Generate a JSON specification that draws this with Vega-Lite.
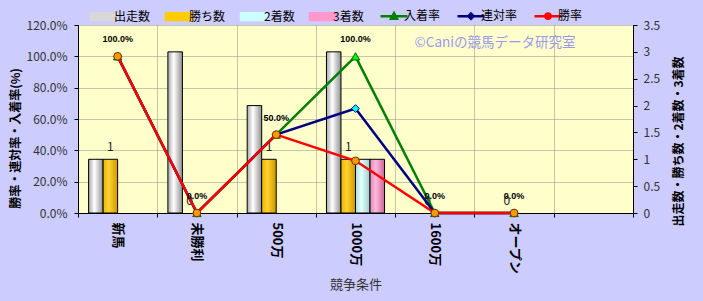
{
  "$schema": "https://vega.github.io/schema/vega-lite/v6.json",
  "width": 555,
  "height": 188,
  "autosize": {"type": "none"},
  "padding": {"left": 78, "top": 25, "right": 70, "bottom": 88},
  "background": "#ccccff",
  "config": {
    "view": {"fill": "#ffffcc", "stroke": null},
    "font": "Noto Sans CJK JP"
  },
  "datasets": {
    "counts": [
      {"cond": "新馬", "series": "出走数", "value": 1},
      {"cond": "新馬", "series": "勝ち数", "value": 1},
      {"cond": "新馬", "series": "2着数", "value": 0},
      {"cond": "新馬", "series": "3着数", "value": 0},
      {"cond": "未勝利", "series": "出走数", "value": 3},
      {"cond": "未勝利", "series": "勝ち数", "value": 0},
      {"cond": "未勝利", "series": "2着数", "value": 0},
      {"cond": "未勝利", "series": "3着数", "value": 0},
      {"cond": "500万", "series": "出走数", "value": 2},
      {"cond": "500万", "series": "勝ち数", "value": 1},
      {"cond": "500万", "series": "2着数", "value": 0},
      {"cond": "500万", "series": "3着数", "value": 0},
      {"cond": "1000万", "series": "出走数", "value": 3},
      {"cond": "1000万", "series": "勝ち数", "value": 1},
      {"cond": "1000万", "series": "2着数", "value": 1},
      {"cond": "1000万", "series": "3着数", "value": 1},
      {"cond": "1600万", "series": "出走数", "value": 0},
      {"cond": "1600万", "series": "勝ち数", "value": 0},
      {"cond": "1600万", "series": "2着数", "value": 0},
      {"cond": "1600万", "series": "3着数", "value": 0},
      {"cond": "オープン", "series": "出走数", "value": 0},
      {"cond": "オープン", "series": "勝ち数", "value": 0},
      {"cond": "オープン", "series": "2着数", "value": 0},
      {"cond": "オープン", "series": "3着数", "value": 0}
    ],
    "rates": [
      {"cond": "新馬", "series": "入着率", "value": 1},
      {"cond": "未勝利", "series": "入着率", "value": 0},
      {"cond": "500万", "series": "入着率", "value": 0.5},
      {"cond": "1000万", "series": "入着率", "value": 1},
      {"cond": "1600万", "series": "入着率", "value": 0},
      {"cond": "オープン", "series": "入着率", "value": 0},
      {"cond": "新馬", "series": "連対率", "value": 1},
      {"cond": "未勝利", "series": "連対率", "value": 0},
      {"cond": "500万", "series": "連対率", "value": 0.5},
      {"cond": "1000万", "series": "連対率", "value": 0.6667},
      {"cond": "1600万", "series": "連対率", "value": 0},
      {"cond": "オープン", "series": "連対率", "value": 0},
      {"cond": "新馬", "series": "勝率", "value": 1},
      {"cond": "未勝利", "series": "勝率", "value": 0},
      {"cond": "500万", "series": "勝率", "value": 0.5},
      {"cond": "1000万", "series": "勝率", "value": 0.3333},
      {"cond": "1600万", "series": "勝率", "value": 0},
      {"cond": "オープン", "series": "勝率", "value": 0}
    ],
    "note": [{"label": "©Caniの競馬データ研究室"}]
  },
  "layer": [
    {
      "data": {"name": "counts"},
      "encoding": {
        "x": {
          "field": "cond", "type": "nominal",
          "scale": {"domain": ["新馬", "未勝利", "500万", "1000万", "1600万", "オープン", " "], "paddingInner": 0, "paddingOuter": 0},
          "axis": {
            "tickBand": "extent", "grid": true, "gridDash": [1, 1], "gridColor": "#8c8c8c",
            "domainColor": "#000000", "domainWidth": 1, "tickColor": "#000000", "tickSize": 4,
            "labelAngle": 90, "labelAlign": "left", "labelBaseline": "middle", "labelPadding": 5,
            "labelFontSize": 13, "labelFontWeight": "bold", "labelColor": "#000000",
            "title": "競争条件", "titleFontSize": 13, "titleFontWeight": "normal", "titleColor": "#333333",
            "titleY": 65, "titleBaseline": "top"
          }
        },
        "xOffset": {"field": "series", "type": "nominal", "scale": {"domain": ["出走数", "勝ち数", "2着数", "3着数"], "paddingInner": 0, "paddingOuter": 0.73}},
        "y": {
          "field": "value", "type": "quantitative",
          "scale": {"domain": [0, 3.5], "nice": false},
          "axis": {
            "orient": "right", "values": [0, 0.5, 1, 1.5, 2, 2.5, 3, 3.5], "format": "~g", "grid": false,
            "domainColor": "#000000", "tickColor": "#000000", "tickSize": 4, "labelPadding": 6,
            "labelFontSize": 12, "labelColor": "#333333",
            "title": "出走数・勝ち数・2着数・3着数", "titleFontSize": 12, "titleFontWeight": "bold", "titleColor": "#000000",
            "titleAngle": 270, "titleX": 45, "titleY": 116, "titleAlign": "center", "titleBaseline": "middle"
          }
        }
      },
      "layer": [
        {
          "transform": [{"filter": "datum.series == '出走数' && datum.value > 0"}],
          "mark": {"type": "bar", "stroke": "#000000", "strokeWidth": 1,
            "fill": {"gradient": "linear", "x1": 0, "x2": 1, "y1": 0, "y2": 0,
              "stops": [{"offset": 0, "color": "#a8a8a8"}, {"offset": 0.4, "color": "#ffffff"}, {"offset": 1, "color": "#909090"}]}}
        },
        {
          "transform": [{"filter": "datum.series == '勝ち数' && datum.value > 0"}],
          "mark": {"type": "bar", "stroke": "#000000", "strokeWidth": 1,
            "fill": {"gradient": "linear", "x1": 0, "x2": 1, "y1": 0, "y2": 0,
              "stops": [{"offset": 0, "color": "#e6b800"}, {"offset": 0.4, "color": "#ffd22e"}, {"offset": 1, "color": "#cc9900"}]}}
        },
        {
          "transform": [{"filter": "datum.series == '2着数' && datum.value > 0"}],
          "mark": {"type": "bar", "stroke": "#000000", "strokeWidth": 1,
            "fill": {"gradient": "linear", "x1": 0, "x2": 1, "y1": 0, "y2": 0,
              "stops": [{"offset": 0, "color": "#a8dede"}, {"offset": 0.4, "color": "#e6ffff"}, {"offset": 1, "color": "#99cccc"}]}}
        },
        {
          "transform": [{"filter": "datum.series == '3着数' && datum.value > 0"}],
          "mark": {"type": "bar", "stroke": "#000000", "strokeWidth": 1,
            "fill": {"gradient": "linear", "x1": 0, "x2": 1, "y1": 0, "y2": 0,
              "stops": [{"offset": 0, "color": "#e08ab5"}, {"offset": 0.4, "color": "#ffb8dc"}, {"offset": 1, "color": "#cc6699"}]}}
        },
        {
          "transform": [{"filter": "datum.series == '勝ち数'"}],
          "mark": {"type": "text", "dy": -12, "fontSize": 12, "color": "#222222", "baseline": "middle"},
          "encoding": {"text": {"field": "value", "type": "quantitative", "format": "d"}}
        }
      ]
    },
    {
      "data": {"name": "rates"},
      "encoding": {
        "x": {"field": "cond", "type": "nominal"},
        "y": {
          "field": "value", "type": "quantitative",
          "scale": {"domain": [0, 1.2], "nice": false},
          "axis": {
            "orient": "left", "values": [0, 0.2, 0.4, 0.6, 0.8, 1, 1.2], "format": ".1%",
            "grid": true, "gridDash": [1, 1], "gridColor": "#8c8c8c",
            "domainColor": "#000000", "tickColor": "#000000", "tickSize": 4, "labelPadding": 7,
            "labelFontSize": 12, "labelColor": "#333333",
            "title": "勝率・連対率・入着率(%)", "titleFontSize": 12, "titleFontWeight": "bold", "titleColor": "#000000",
            "titleAngle": 270, "titleX": -63, "titleY": 113, "titleAlign": "center", "titleBaseline": "middle"
          }
        }
      },
      "layer": [
        {
          "transform": [{"filter": "datum.series == '入着率'"}],
          "mark": {"type": "line", "strokeWidth": 2.5},
          "encoding": {
            "color": {
              "field": "series", "type": "nominal",
              "scale": {"domain": ["出走数", "勝ち数", "2着数", "3着数", "入着率", "連対率", "勝率"], "range": ["#d8d8d8", "#ffcc00", "#ccffff", "#ff99cc", "#008000", "#000080", "#ff0000"]},
              "legend": {
                "title": null, "orient": "none", "legendX": 20, "legendY": -15, "direction": "horizontal", "columns": 7,
                "columnPadding": 11, "labelOffset": 4, "labelFontSize": 12, "labelColor": "#000000", "labelFont": "Noto Sans CJK JP",
                "symbolSize": 729, "symbolType": "M-1,-0.28H1V0.28H-1Z",
                "encode": {
                  "symbols": {
                    "update": {
                      "shape": {"signal": "datum.value == '入着率' ? 'M-1,0H1M-0.22,0.2L0,-0.22L0.22,0.2Z' : datum.value == '連対率' ? 'M-1,0H1M-0.2,0L0,-0.2L0.2,0L0,0.2Z' : datum.value == '勝率' ? 'M-1,0H1M0.2,0A0.2,0.2,0,1,1,-0.2,0A0.2,0.2,0,1,1,0.2,0Z' : 'M-1,-0.28H1V0.28H-1Z'"},
                      "fill": {"signal": "{'出走数': '#d8d8d8', '勝ち数': '#ffcc00', '2着数': '#ccffff', '3着数': '#ff99cc', '入着率': '#00ff00', '連対率': '#00ffff', '勝率': '#ff9900'}[datum.value]"},
                      "stroke": {"signal": "{'出走数': '#000000', '勝ち数': '#000000', '2着数': '#000000', '3着数': '#000000', '入着率': '#008000', '連対率': '#000080', '勝率': '#ff0000'}[datum.value]"},
                      "strokeWidth": {"signal": "indexof(['入着率', '連対率', '勝率'], datum.value) >= 0 ? 2.5 : 1.5"},
                      "opacity": {"value": 1},
                      "fillOpacity": {"value": 1},
                      "strokeOpacity": {"value": 1}
                    }
                  }
                }
              }
            }
          }
        },
        {
          "transform": [{"filter": "datum.series == '入着率'"}],
          "mark": {"type": "point", "shape": "triangle-up", "size": 70, "filled": true, "fill": "#00ff00", "stroke": "#006400", "strokeWidth": 1, "opacity": 1}
        },
        {
          "transform": [{"filter": "datum.series == '連対率'"}],
          "mark": {"type": "line", "strokeWidth": 2.5},
          "encoding": {
            "color": {
              "field": "series", "type": "nominal",
              "scale": {"domain": ["出走数", "勝ち数", "2着数", "3着数", "入着率", "連対率", "勝率"], "range": ["#d8d8d8", "#ffcc00", "#ccffff", "#ff99cc", "#008000", "#000080", "#ff0000"]}
            }
          }
        },
        {
          "transform": [{"filter": "datum.series == '連対率'"}],
          "mark": {"type": "point", "shape": "diamond", "size": 60, "filled": true, "fill": "#00ffff", "stroke": "#000080", "strokeWidth": 1, "opacity": 1}
        },
        {
          "transform": [{"filter": "datum.series == '勝率'"}],
          "mark": {"type": "line", "strokeWidth": 2.5},
          "encoding": {
            "color": {
              "field": "series", "type": "nominal",
              "scale": {"domain": ["出走数", "勝ち数", "2着数", "3着数", "入着率", "連対率", "勝率"], "range": ["#d8d8d8", "#ffcc00", "#ccffff", "#ff99cc", "#008000", "#000080", "#ff0000"]}
            }
          }
        },
        {
          "transform": [{"filter": "datum.series == '勝率'"}],
          "mark": {"type": "point", "shape": "circle", "size": 60, "filled": true, "fill": "#ff9900", "stroke": "#663300", "strokeWidth": 1, "opacity": 1}
        },
        {
          "transform": [{"filter": "datum.series == '入着率'"}],
          "mark": {"type": "text", "dy": -17, "fontSize": 9, "fontWeight": "bold", "font": "Liberation Sans", "color": "#000000", "baseline": "middle"},
          "encoding": {"text": {"field": "value", "type": "quantitative", "format": ".1%"}}
        }
      ]
    },
    {
      "data": {"name": "note"},
      "mark": {"type": "text", "fontSize": 13.5, "color": "#9999ee", "dx": -19, "baseline": "middle"},
      "encoding": {
        "x": {"datum": "オープン", "type": "nominal"},
        "y": {"datum": 1.085, "type": "quantitative", "scale": {"domain": [0, 1.2], "nice": false}, "axis": null},
        "text": {"field": "label", "type": "nominal"}
      }
    }
  ],
  "resolve": {"scale": {"y": "independent"}}
}
